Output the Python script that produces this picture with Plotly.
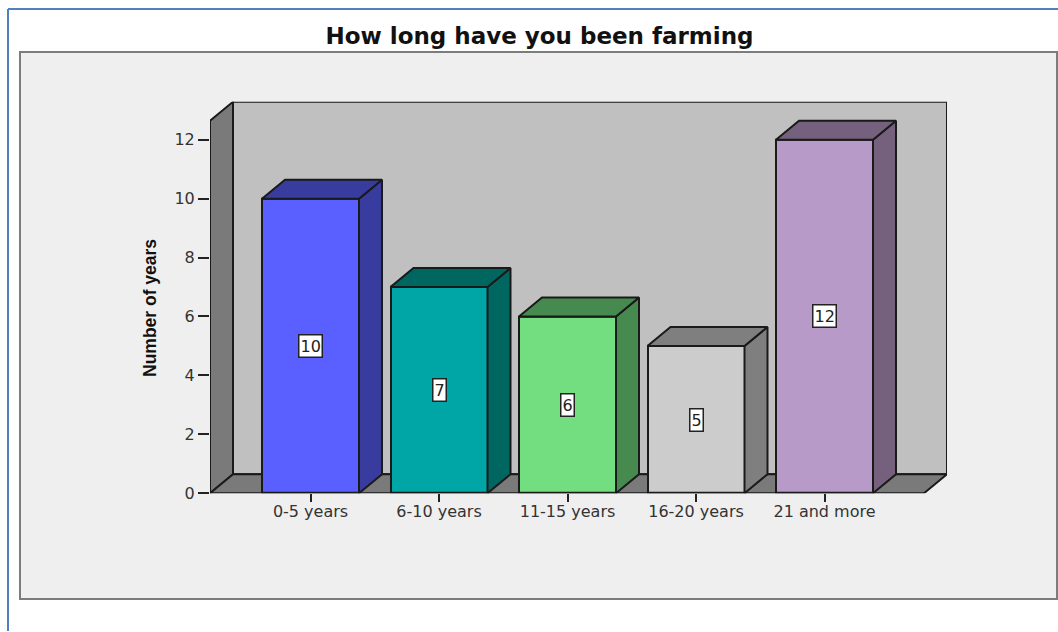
import plotly.graph_objects as go

categories = ["0-5 years", "6-10 years", "11-15 years", "16-20 years", "21 and more"]
values = [10, 7, 6, 5, 12]
front_colors = ["#5a5fff", "#00a6a6", "#72de80", "#cccccc", "#b89ac8"]
side_colors = ["#383c9e", "#006660", "#478a50", "#7f7f7f", "#75607d"]
y_ticks = [0, 2, 4, 6, 8, 10, 12]

W, H = 1058, 632
LAYOUT_H = 641
PLOT_L, PLOT_R, PLOT_T, PLOT_B = 210, 947, 102, 494
X0_PX, X_STEP = 310.5, 128.5
Y_STEP = 29.5
BAR_W = 97 / X_STEP
DX = 23 / X_STEP
DY = 19 / Y_STEP
X_MIN = (PLOT_L - X0_PX) / X_STEP
X_MAX = (PLOT_R - X0_PX) / X_STEP
Y_MAX = (PLOT_B - PLOT_T) / Y_STEP
EDGE = "#1a1a1a"


def fx(p):
    return p / W


def fy(p):
    return 1 - p / H


fig = go.Figure()

xs = list(range(len(categories)))
fig.add_trace(go.Bar(
    x=xs, y=values, width=BAR_W,
    marker=dict(color=front_colors, line=dict(color=EDGE, width=2)),
    hoverinfo="x+y", showlegend=False,
))

for x, v, side in zip(xs, values, side_colors):
    right = x + BAR_W / 2
    left = x - BAR_W / 2
    fig.add_trace(go.Scatter(
        x=[right, right + DX, right + DX, right, right],
        y=[0, DY, v + DY, v, 0],
        mode="lines", fill="toself", fillcolor=side,
        line=dict(color=EDGE, width=2), hoverinfo="skip", showlegend=False,
    ))
    fig.add_trace(go.Scatter(
        x=[left, left + DX, right + DX, right, left],
        y=[v, v + DY, v + DY, v, v],
        mode="lines", fill="toself", fillcolor=side,
        line=dict(color=EDGE, width=2), hoverinfo="skip", showlegend=False,
    ))

annotations = [
    dict(x=x, y=v / 2, text=str(v), showarrow=False, xref="x", yref="y",
         bgcolor="white", bordercolor="#222222", borderwidth=1.5, borderpad=1,
         font=dict(family="DejaVu Sans", size=16, color="#222222"))
    for x, v in zip(xs, values)
]
annotations.append(
    dict(x=fx(150), y=fy(308.5), xref="paper", yref="paper", text="<b>Number of years</b>",
         textangle=-90, showarrow=False, xanchor="center", yanchor="middle",
         font=dict(family="Liberation Sans", size=17.5, color="#111111"))
)

wall_line = dict(color=EDGE, width=2)
shapes = [
    dict(type="rect", xref="paper", yref="paper", layer="below",
         x0=fx(20), x1=fx(1057), y0=fy(52), y1=fy(600),
         fillcolor="#efefef", line=dict(color="#7c7c7c", width=2)),
    dict(type="line", xref="paper", yref="paper", layer="below",
         x0=fx(8), x1=fx(1058), y0=fy(9), y1=fy(9), line=dict(color="#4f81bd", width=2)),
    dict(type="line", xref="paper", yref="paper", layer="below",
         x0=fx(8), x1=fx(8), y0=fy(9), y1=fy(632), line=dict(color="#4f81bd", width=2)),
    dict(type="rect", xref="x", yref="y", layer="below",
         x0=X_MIN + DX, x1=X_MAX, y0=DY, y1=Y_MAX,
         fillcolor="#c0c0c0", line=wall_line),
    dict(type="path", xref="x", yref="y", layer="below",
         path=f"M {X_MIN} 0 L {X_MIN + DX} {DY} L {X_MIN + DX} {Y_MAX} L {X_MIN} {Y_MAX - DY} Z",
         fillcolor="#7a7a7a", line=wall_line),
    dict(type="path", xref="x", yref="y", layer="below",
         path=f"M {X_MIN} 0 L {X_MIN + DX} {DY} L {X_MAX} {DY} L {X_MAX - DX} 0 Z",
         fillcolor="#7a7a7a", line=wall_line),
]

fig.update_layout(
    width=W, height=LAYOUT_H,
    autosize=False,
    margin=dict(l=0, r=0, t=0, b=0),
    paper_bgcolor="white",
    plot_bgcolor="rgba(0,0,0,0)",
    showlegend=False,
    bargap=0,
    title=dict(text="<b>How long have you been farming</b>",
               x=fx(539.5), xanchor="center", y=fy(35), yanchor="middle",
               font=dict(family="DejaVu Sans", size=23, color="#111111")),
    xaxis=dict(domain=[fx(PLOT_L), fx(PLOT_R)], range=[X_MIN, X_MAX],
               tickmode="array", tickvals=xs, ticktext=categories,
               ticks="outside", ticklen=8, tickwidth=2, tickcolor="#222222",
               ticklabelstandoff=-4,
               showgrid=False, zeroline=False, showline=False,
               tickfont=dict(family="DejaVu Sans", size=16, color="#333333")),
    yaxis=dict(domain=[fy(PLOT_B), fy(PLOT_T)], range=[0, Y_MAX],
               tickmode="array", tickvals=y_ticks,
               ticks="outside", ticklen=11, tickwidth=2, tickcolor="#222222",
               showgrid=False, zeroline=False, showline=False,
               tickfont=dict(family="DejaVu Sans", size=16, color="#333333")),
    shapes=shapes,
    annotations=annotations,
)

fig.write_html(
    "out.html",
    config={"displayModeBar": False},
    post_script="document.body.style.margin='0';document.body.style.overflow='hidden';",
)
